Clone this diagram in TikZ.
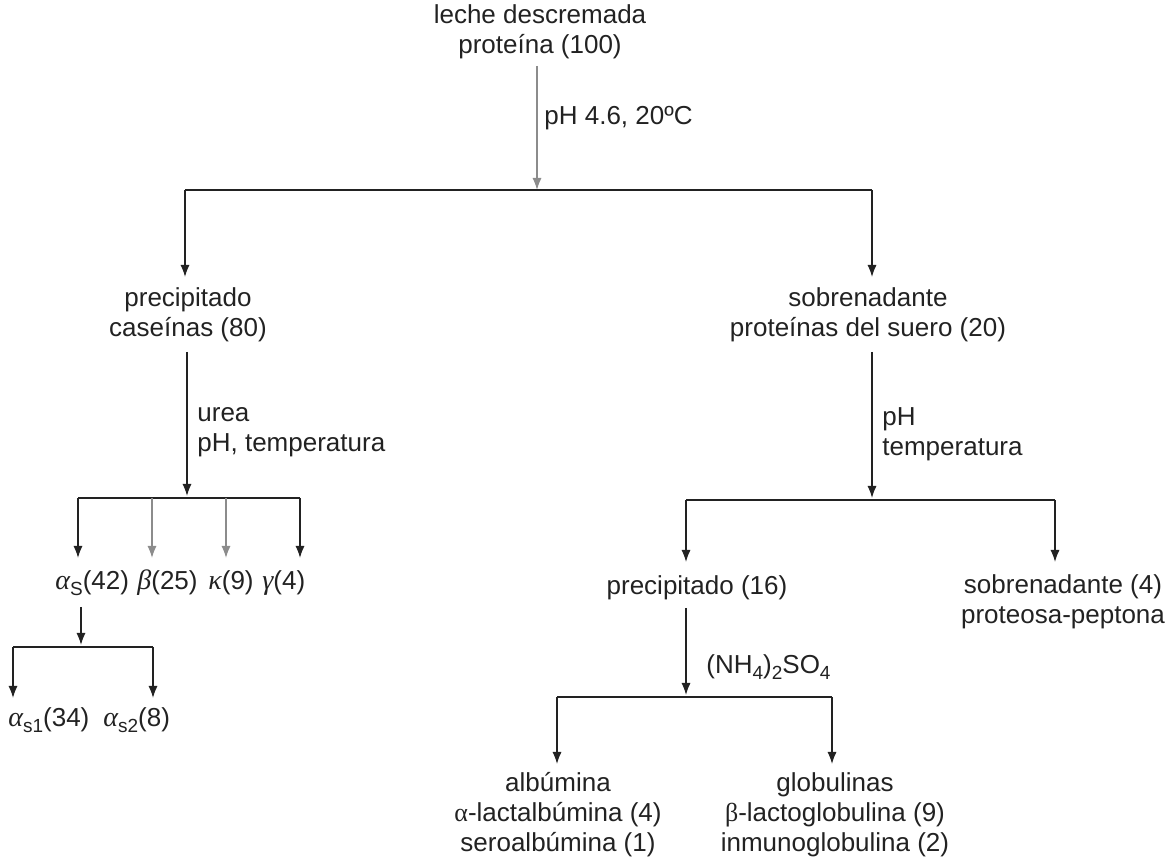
\documentclass[tikz,border=0pt]{standalone}
\usepackage{fontspec}
\setmainfont{Liberation Sans}
\newfontfamily\grk{Liberation Serif}
\usetikzlibrary{arrows.meta}
\definecolor{txt}{HTML}{222222}
\definecolor{lgray}{HTML}{8C8C8C}
\newcommand\lowsub[1]{\raisebox{-0.4ex}{\fontsize{9.5}{9.5}\selectfont #1}}
\newcommand\gi[1]{{\grk\itshape\fontsize{14}{15}\selectfont #1}}
\begin{document}
\begin{tikzpicture}[x=0.5pt,y=-0.5pt,
  lbl/.style={align=center,text=txt,inner sep=0pt,font=\fontsize{13}{15}\selectfont},
  side/.style={lbl,align=left,anchor=west},
  arr/.style={-{Latex[length=6pt,width=4.6pt]},line width=0.75pt,draw=txt},
  garr/.style={arr,draw=lgray},
  bar/.style={line width=0.75pt,draw=txt}]
\useasboundingbox (0,0) rectangle (1168,865);

% nodes
\node[lbl] (top) at (540,32) {leche descremada\\proteína (100)};
\node[side] (c1) at (544,118) {pH 4.6, 20ºC};
\node[lbl] (prec) at (188,315) {precipitado\\caseínas (80)};
\node[lbl] (sobr) at (868,315) {sobrenadante\\proteínas del suero (20)};
\node[side] (c2) at (197,432) {urea\\pH, temperatura};
\node[side] (c3) at (882,434) {pH\\temperatura};
\node[lbl,anchor=west] (as) at (55,583) {\gi{α}\lowsub{S}(42)};
\node[lbl,anchor=west] (be) at (137,583) {\gi{β}(25)};
\node[lbl,anchor=west] (ka) at (208,583) {\gi{κ}(9)};
\node[lbl,anchor=west] (ga) at (262,583) {\gi{γ}(4)};
\node[lbl,anchor=west] (as1) at (8,720) {\gi{α}\lowsub{s1}(34)};
\node[lbl,anchor=west] (as2) at (103,720) {\gi{α}\lowsub{s2}(8)};
\node[lbl] (p16) at (697,588) {precipitado (16)};
\node[lbl] (s4) at (1063,602) {sobrenadante (4)\\proteosa-peptona};
\node[side] (c4) at (706,667) {(NH\lowsub{4})\lowsub{2}SO\lowsub{4}};
\node[lbl] (alb) at (558,815) {albúmina\\{\grk α}-lactalbúmina (4)\\seroalbúmina (1)};
\node[lbl] (glo) at (835,815) {globulinas\\{\grk β}-lactoglobulina (9)\\inmunoglobulina (2)};

% coordinates
\coordinate (t0) at (537,66);
\coordinate (j0) at (537,190);
\coordinate (jL) at (185,190);
\coordinate (jR) at (872,190);
\coordinate (eL) at (185,277);
\coordinate (eR) at (872,277);
\coordinate (l0) at (187,352);
\coordinate (l1) at (187,496);
\coordinate (b1) at (78,498);
\coordinate (b2) at (152,498);
\coordinate (b3) at (226,498);
\coordinate (b4) at (300,498);
\coordinate (e1) at (78,558);
\coordinate (e2) at (152,558);
\coordinate (e3) at (226,558);
\coordinate (e4) at (300,558);
\coordinate (a0) at (81,607);
\coordinate (a1) at (81,645);
\coordinate (d1) at (13,647);
\coordinate (d2) at (153,647);
\coordinate (f1) at (13,698);
\coordinate (f2) at (153,698);
\coordinate (r0) at (872,352);
\coordinate (r1) at (872,498);
\coordinate (g1) at (686,500);
\coordinate (g2) at (1055,500);
\coordinate (h1) at (686,562);
\coordinate (h2) at (1055,562);
\coordinate (p0) at (686,608);
\coordinate (p1) at (686,695);
\coordinate (k1) at (557,697);
\coordinate (k2) at (832,697);
\coordinate (m1) at (557,764);
\coordinate (m2) at (832,764);

% connectors
\draw[garr] (t0) -- (j0);
\draw[bar] (jL) -- (jR);
\draw[arr] (jL) -- (eL);
\draw[arr] (jR) -- (eR);
\draw[arr] (l0) -- (l1);
\draw[bar] (b1) -- (b4);
\draw[arr] (b1) -- (e1);
\draw[garr] (b2) -- (e2);
\draw[garr] (b3) -- (e3);
\draw[arr] (b4) -- (e4);
\draw[arr] (a0) -- (a1);
\draw[bar] (d1) -- (d2);
\draw[arr] (d1) -- (f1);
\draw[arr] (d2) -- (f2);
\draw[arr] (r0) -- (r1);
\draw[bar] (g1) -- (g2);
\draw[arr] (g1) -- (h1);
\draw[arr] (g2) -- (h2);
\draw[arr] (p0) -- (p1);
\draw[bar] (k1) -- (k2);
\draw[arr] (k1) -- (m1);
\draw[arr] (k2) -- (m2);
\end{tikzpicture}
\end{document}
